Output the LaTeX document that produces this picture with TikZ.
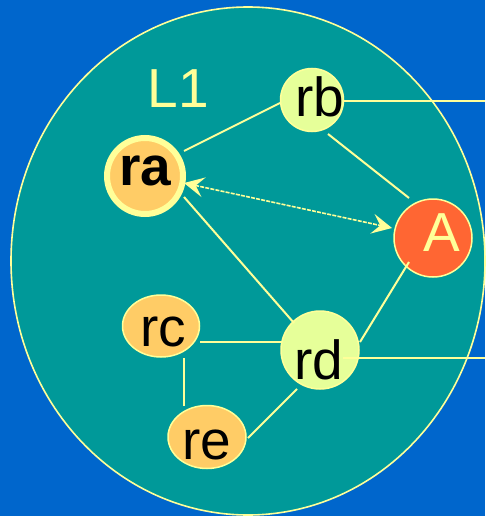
\documentclass[tikz,border=0pt]{standalone}
\usepackage{fontspec}
\setmainfont{Liberation Sans}
\usetikzlibrary{shapes.geometric,arrows.meta}
\definecolor{bgblue}{RGB}{0,102,204}
\definecolor{teal1}{RGB}{0,153,153}
\definecolor{pale}{RGB}{255,255,153}
\definecolor{orng}{RGB}{255,204,102}
\definecolor{lime}{RGB}{230,255,153}
\definecolor{redA}{RGB}{255,102,51}
\tikzset{
  big/.style={font=\fontsize{55}{60}\selectfont},
  lbl/.style={big, anchor=base, inner sep=0pt, text=black},
  router/.style={circle, draw=pale, line width=1.5pt, fill=lime, inner sep=0pt, minimum size=#1},
  router/.default=78pt,
  oval/.style={ellipse, draw=pale, line width=1.5pt, fill=orng, inner sep=0pt,
               minimum width=77pt, minimum height=62pt},
  link/.style={draw=pale, line width=2pt},
  probe/.style={draw=pale, line width=1.6pt, dash pattern=on 4pt off 1.2pt,
                {Stealth[length=20pt,width=20pt,inset=8pt]}-{Stealth[length=20pt,width=20pt,inset=8pt]}}
}
\begin{document}
\begin{tikzpicture}[x=1pt,y=-1pt]
  % background and area L1
  \fill[bgblue] (0,0) rectangle (485,516);
  \useasboundingbox (0,0) rectangle (485,516);
  \draw[pale, line width=1.6pt, fill=teal1] (248,261) ellipse [x radius=237pt, y radius=254pt];
  \node[big, text=pale, anchor=base, inner sep=0pt] (L1) at (178.5,107) {L1};

  % nodes
  \node[circle, draw=pale, line width=6pt, fill=orng, inner sep=0pt, minimum size=76pt] (ra) at (145,176) {};
  \node[router=63pt] (rb) at (312,100) {};
  \node[router] (rd) at (320,350) {};
  \node[circle, draw=pale, line width=1.5pt, fill=redA, inner sep=0pt, minimum size=78pt] (A) at (433,238) {};
  \node[oval] (rc) at (161,326) {};
  \node[oval, minimum width=78pt, minimum height=63pt] (re) at (207,437) {};

  % node texts
  \node[lbl, font=\fontsize{55}{60}\selectfont\bfseries] (ra-t) at ([shift={(0,9)}]ra.center) {ra};
  \node[lbl] (rb-t) at ([shift={(8,17)}]rb.center) {rb};
  \node[lbl] (rc-t) at ([shift={(2,20)}]rc.center) {rc};
  \node[lbl] (rd-t) at ([shift={(-1,29)}]rd.center) {rd};
  \node[lbl] (re-t) at ([shift={(0,22)}]re.center) {re};
  \node[lbl, text=pale] (A-t) at ([shift={(8.5,13)}]A.center) {A};

  % outgoing links
  \coordinate (rbout) at (485,101);
  \coordinate (rdout) at (485,358);

  % links
  \draw[link] ([shift={(39,-25)}]ra.center) -- ([shift={(-32,3)}]rb.center);
  \draw[link] ([shift={(16,34)}]rb.center) -- ([shift={(-24,-40)}]A.center);
  \draw[link] ([shift={(39,21)}]ra.center) -- ([shift={(-26,-27)}]rd.center);
  \draw[link] ([shift={(40,-8)}]rd.center) -- ([shift={(-24,24)}]A.center);
  \draw[link] ([shift={(39,16)}]rc.center) -- ([shift={(-38,-8)}]rd.center);
  \draw[link] ([shift={(23,32)}]rc.center) -- ([shift={(-23,-31)}]re.center);
  \draw[link] ([shift={(41,1)}]re.center) -- ([shift={(-23,39)}]rd.center);
  \draw[link] ([shift={(31,1)}]rb.center) -- (rbout);
  \draw[link] ([shift={(23,8)}]rd.center) -- (rdout);

  % probe between ra and A
  \draw[probe] ([shift={(39,7)}]ra.center) -- ([shift={(-41,-10)}]A.center);
\end{tikzpicture}
\end{document}
